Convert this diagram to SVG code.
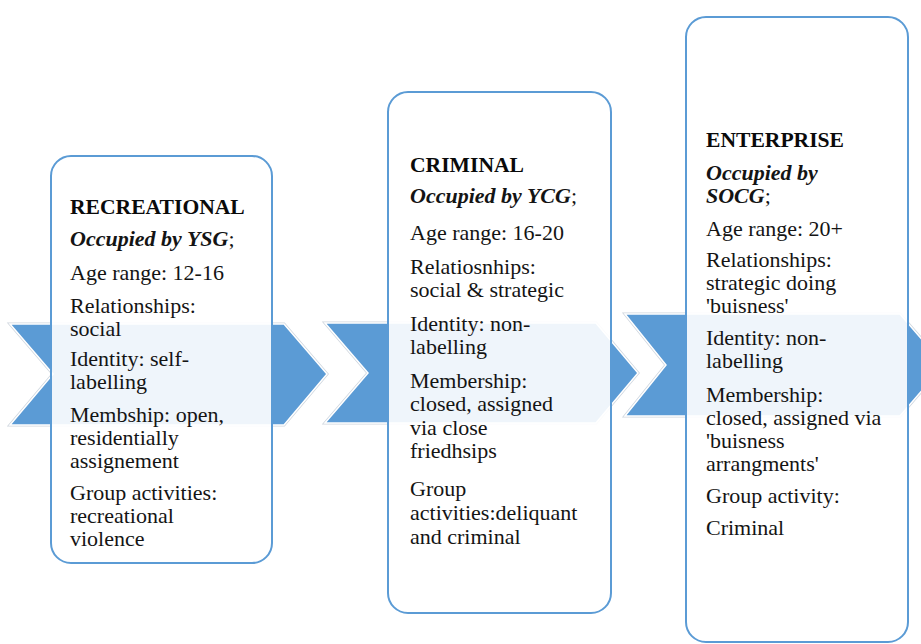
<svg xmlns="http://www.w3.org/2000/svg" width="921" height="644" viewBox="0 0 921 644">
<style>
  .chev-o { fill: none; stroke: #cfd6de; stroke-width: 3; stroke-linejoin: miter; }
  .chev { fill: #5B9BD5; stroke: #ffffff; stroke-width: 1.5; stroke-linejoin: miter; }
  .box { fill: #ffffff; fill-opacity: 0.9; stroke: #5B9BD5; stroke-width: 2; }
  text { font-family: "Liberation Serif", "Times New Roman", serif; font-size: 22px; fill: #141414; }
  .title { font-weight: bold; font-size: 21.6px; fill: #0a0a0a; }
  .occ { font-weight: bold; font-style: italic; }
</style>
<rect x="0" y="0" width="921" height="644" fill="#ffffff"/>
<g id="connectors">
  <polygon class="chev-o" points="10,324 284,324 327,374 284,425 10,425 53,374"/>
  <polygon class="chev" points="10,324 284,324 327,374 284,425 10,425 53,374"/>
  <polygon class="chev-o" points="325,323 596,323 638,373 596,423 325,423 368,373"/>
  <polygon class="chev" points="325,323 596,323 638,373 596,423 325,423 368,373"/>
  <polygon class="chev-o" points="625,314 900,314 944,365 900,416 625,416 666,365"/>
  <polygon class="chev" points="625,314 900,314 944,365 900,416 625,416 666,365"/>
</g>
<g id="recreational">
  <rect class="box" x="51" y="156" width="221" height="407" rx="20" ry="20"/>
  <text class="title" x="70" y="214">RECREATIONAL</text>
  <text x="70" y="246"><tspan class="occ">Occupied by YSG</tspan>;</text>
  <text x="70" y="280">Age range: 12-16</text>
  <text x="70" y="313">Relationships:</text>
  <text x="70" y="336">social</text>
  <text x="70" y="366">Identity: self-</text>
  <text x="70" y="389">labelling</text>
  <text x="70" y="422">Membship: open,</text>
  <text x="70" y="445">residentially</text>
  <text x="70" y="468">assignement</text>
  <text x="70" y="500">Group activities:</text>
  <text x="70" y="523">recreational</text>
  <text x="70" y="546">violence</text>
</g>
<g id="criminal">
  <rect class="box" x="388" y="92" width="223" height="521" rx="20" ry="20"/>
  <text class="title" x="410" y="172">CRIMINAL</text>
  <text x="410" y="203"><tspan class="occ">Occupied by YCG</tspan>;</text>
  <text x="410" y="240">Age range: 16-20</text>
  <text x="410" y="274">Relatiosnhips:</text>
  <text x="410" y="297">social &amp; strategic</text>
  <text x="410" y="331">Identity: non-</text>
  <text x="410" y="354">labelling</text>
  <text x="410" y="388">Membership:</text>
  <text x="410" y="411">closed, assigned</text>
  <text x="410" y="435">via close</text>
  <text x="410" y="458">friedhsips</text>
  <text x="410" y="496">Group</text>
  <text x="410" y="520">activities:deliquant</text>
  <text x="410" y="544">and criminal</text>
</g>
<g id="enterprise">
  <rect class="box" x="686" y="17" width="222" height="625" rx="20" ry="20"/>
  <text class="title" x="706" y="147">ENTERPRISE</text>
  <text class="occ" x="706" y="180">Occupied by</text>
  <text x="706" y="203"><tspan class="occ">SOCG</tspan>;</text>
  <text x="706" y="236">Age range: 20+</text>
  <text x="706" y="267">Relationships:</text>
  <text x="706" y="290">strategic doing</text>
  <text x="706" y="313">'buisness'</text>
  <text x="706" y="345">Identity: non-</text>
  <text x="706" y="368">labelling</text>
  <text x="706" y="402">Membership:</text>
  <text x="706" y="425">closed, assigned via</text>
  <text x="706" y="448">'buisness</text>
  <text x="706" y="471">arrangments'</text>
  <text x="706" y="503">Group activity:</text>
  <text x="706" y="535">Criminal</text>
</g>
</svg>
